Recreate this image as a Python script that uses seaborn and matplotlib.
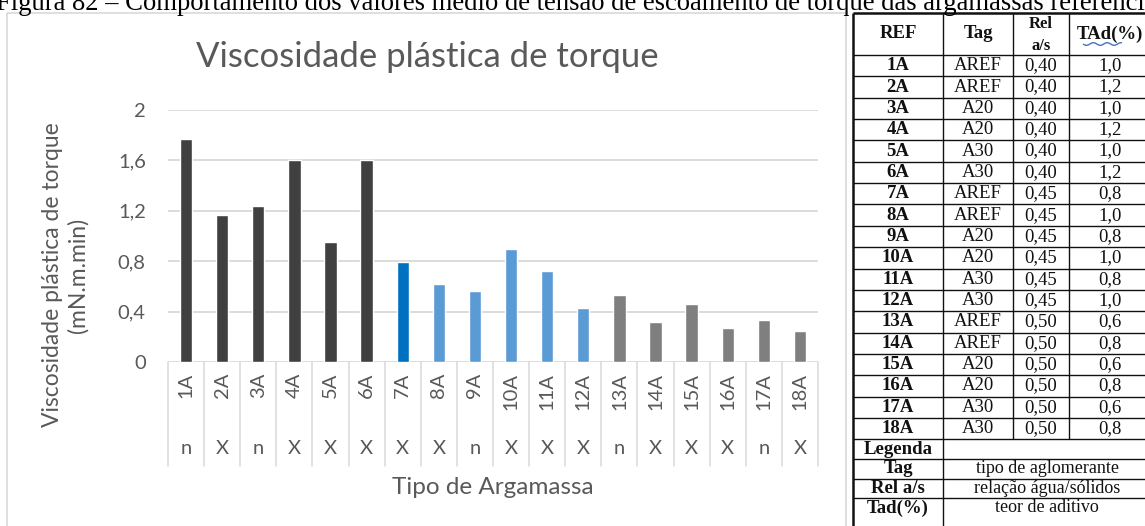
import numpy as np
import pandas as pd
import matplotlib
matplotlib.use("Agg")
import matplotlib.pyplot as plt
from matplotlib.lines import Line2D
from matplotlib.transforms import blended_transform_factory
import seaborn as sns

# --- data -------------------------------------------------------------
argamassas = ["1A", "2A", "3A", "4A", "5A", "6A", "7A", "8A", "9A",
              "10A", "11A", "12A", "13A", "14A", "15A", "16A", "17A", "18A"]
viscosidade = [1.77, 1.17, 1.24, 1.60, 0.95, 1.60, 0.79, 0.62, 0.56,
               0.90, 0.72, 0.43, 0.53, 0.32, 0.46, 0.27, 0.33, 0.25]
marcador = ["n", "X", "n", "X", "X", "X", "X", "X", "n",
            "X", "X", "X", "n", "X", "X", "X", "n", "X"]
yticks = [0, 0.4, 0.8, 1.2, 1.6, 2]

tags = ["AREF", "AREF", "A20", "A20", "A30", "A30",
        "AREF", "AREF", "A20", "A20", "A30", "A30",
        "AREF", "AREF", "A20", "A20", "A30", "A30"]
rel_as = ["0,40", "0,40", "0,40", "0,40", "0,40", "0,40",
          "0,45", "0,45", "0,45", "0,45", "0,45", "0,45",
          "0,50", "0,50", "0,50", "0,50", "0,50", "0,50"]
tad = ["1,0", "1,2", "1,0", "1,2", "1,0", "1,2",
       "0,8", "1,0", "0,8", "1,0", "0,8", "1,0",
       "0,6", "0,8", "0,6", "0,8", "0,6", "0,8"]
cabecalho = ["REF", "Tag", "Rel\na/s", "TAd(%)"]
legenda_chaves = ["Tag", "Rel a/s", "Tad(%)"]
legenda_textos = ["tipo de aglomerante", "relação água/sólidos", "teor de aditivo"]

legenda_titulo = "Legenda"
legenda_figura = ("Figura 82 – Comportamento dos valores médio de tensão de escoamento "
                  "de torque das argamassas referenciais")

# --- styling ----------------------------------------------------------
cores = (["#404040"] * 6 + ["#0070C0"] + ["#5B9BD5"] * 5 + ["#7F7F7F"] * 6)
TXT = "#595959"
GRID = "#D9D9D9"
SANS = "Lato"
SERIF = "Liberation Serif"

sns.set_theme(style="white")
plt.rcParams["font.family"] = [SANS, "DejaVu Sans"]

W, H = 1145, 526
fig = plt.figure(figsize=(W / 100, H / 100), dpi=100)
fig.patch.set_facecolor("white")


def fx(x):
    return x / W


def fy(y):
    return 1 - y / H


def fig_line(xs, ys, color, lw):
    fig.add_artist(Line2D([fx(v) for v in xs], [fy(v) for v in ys],
                          color=color, lw=lw, solid_capstyle="butt"))


# chart frame
fig_line([7, 7], [13, 530], GRID, 1.2)
fig_line([7, 846], [13, 13], GRID, 1.2)
fig_line([846, 846], [13, 530], GRID, 1.2)

# --- bar chart --------------------------------------------------------
ax_top, ax_bot, ax_l, ax_r = 110, 362, 168, 818
ax = fig.add_axes([fx(ax_l), fy(ax_bot), (ax_r - ax_l) / W, (ax_bot - ax_top) / H])

df = pd.DataFrame({"argamassa": argamassas, "viscosidade": viscosidade})
sns.barplot(data=df, x="argamassa", y="viscosidade", hue="argamassa",
            palette=cores, width=0.34, saturation=1, legend=False, ax=ax)

ax.set_xlim(-0.5, len(argamassas) - 0.5)
ax.set_ylim(0, 2)
ax.set_yticks(yticks)
ax.set_yticklabels([("%g" % v).replace(".", ",") for v in yticks])
ax.tick_params(axis="y", length=0, pad=16, labelsize=14.5, labelcolor=TXT)
ax.set_xticks([])
ax.set_xlabel("")
ax.set_ylabel("")
ax.grid(axis="y", color=GRID, lw=1.3)
ax.set_axisbelow(True)
for s in ax.spines.values():
    s.set_visible(False)

# two-level category axis
tr = blended_transform_factory(ax.transData, ax.transAxes)
span = ax_bot - ax_top
for k in range(len(argamassas) + 1):
    ax.plot([k - 0.5, k - 0.5], [0, -(466 - ax_bot) / span], transform=tr,
            color=GRID, lw=1.1, clip_on=False)
for i, (lab, m) in enumerate(zip(argamassas, marcador)):
    ax.text(i, -(373 - ax_bot) / span, lab, transform=tr, rotation=90,
            ha="center", va="top", fontsize=14.5, color=TXT)
    ax.text(i, -(449 - ax_bot) / span, m, transform=tr,
            ha="center", va="center", fontsize=14.5, color=TXT)

fig.text(fx(427), fy(57), "Viscosidade plástica de torque", ha="center",
         va="center", fontsize=25, color=TXT)
fig.text(fx(65), fy(275), "Viscosidade plástica de torque\n(mN.m.min)",
         rotation=90, ha="center", va="center", multialignment="center",
         fontsize=16.5, color=TXT, linespacing=1.25)
fig.text(fx(493), fy(488), "Tipo de Argamassa", ha="center", va="center",
         fontsize=17.5, color=TXT)

# caption above
fig.text(fx(-4), fy(10), legenda_figura, ha="left", va="baseline",
         fontsize=19.2, color="black", family=SERIF)

# --- parameter table --------------------------------------------------
cols = [853, 943, 1013, 1069, 1151]
top, head_bot = 13, 55
row_h = 21.35
leg_h = 19.6
rows_end = head_bot + row_h * len(argamassas)
leg_lines = [rows_end + leg_h * k for k in range(4)]
BLK = "#111111"

# horizontal rules
fig_line([cols[0], cols[-1]], [top, top], BLK, 1.8)
for k in range(len(argamassas) + 1):
    y = head_bot + row_h * k
    fig_line([cols[0], cols[-1]], [y, y], BLK, 1.0)
for y in leg_lines[1:]:
    fig_line([cols[0], cols[-1]], [y, y], BLK, 1.0)
# vertical rules
fig_line([cols[0], cols[0]], [top, 530], BLK, 1.8)
fig_line([cols[1], cols[1]], [top, 530], BLK, 1.0)
for c in cols[2:4]:
    fig_line([c, c], [top, rows_end], BLK, 1.0)

centers = [(cols[i] + cols[i + 1]) / 2 for i in range(4)]
hy = (top + head_bot) / 2
fig.text(fx(centers[0]), fy(hy), cabecalho[0], ha="center", va="center",
         family=SERIF, fontsize=13.5, weight="bold", color=BLK)
fig.text(fx(centers[1]), fy(hy), cabecalho[1], ha="center", va="center",
         family=SERIF, fontsize=13.5, weight="bold", color=BLK)
fig.text(fx(centers[2]), fy(hy + 1), cabecalho[2], ha="center", va="center",
         family=SERIF, fontsize=12, weight="bold", color=BLK, linespacing=1.55)
fig.text(fx(centers[3]), fy(hy), cabecalho[3], ha="center", va="center",
         family=SERIF, fontsize=13.5, weight="bold", color=BLK)
# spell-check squiggle under the last header
sx = np.linspace(1083, 1122, 60)
sy = 44 + 1.3 * np.sin((sx - 1083) / 2.2)
fig_line(sx, sy, "#4472C4", 1.0)

for i in range(len(argamassas)):
    yc = head_bot + row_h * (i + 0.5)
    fig.text(fx(centers[0]), fy(yc), argamassas[i], ha="center", va="center",
             family=SERIF, fontsize=13.5, weight="bold", color=BLK)
    for c, val in zip(centers[1:], (tags[i], rel_as[i], tad[i])):
        fig.text(fx(c), fy(yc), val, ha="center", va="center",
                 family=SERIF, fontsize=13.5, color=BLK)

merged_c = (cols[1] + cols[-1]) / 2
fig.text(fx(centers[0]), fy(leg_lines[0] + leg_h / 2), legenda_titulo,
         ha="center", va="center", family=SERIF, fontsize=13.5,
         weight="bold", color=BLK)
for k, (chave, desc) in enumerate(zip(legenda_chaves, legenda_textos)):
    yc = leg_lines[k + 1] + leg_h / 2
    fig.text(fx(centers[0]), fy(yc), chave, ha="center", va="center",
             family=SERIF, fontsize=13.5, weight="bold", color=BLK)
    fig.text(fx(merged_c), fy(yc), desc, ha="center", va="center",
             family=SERIF, fontsize=13, color=BLK)

fig.savefig("out.png", dpi=100, facecolor="white")
